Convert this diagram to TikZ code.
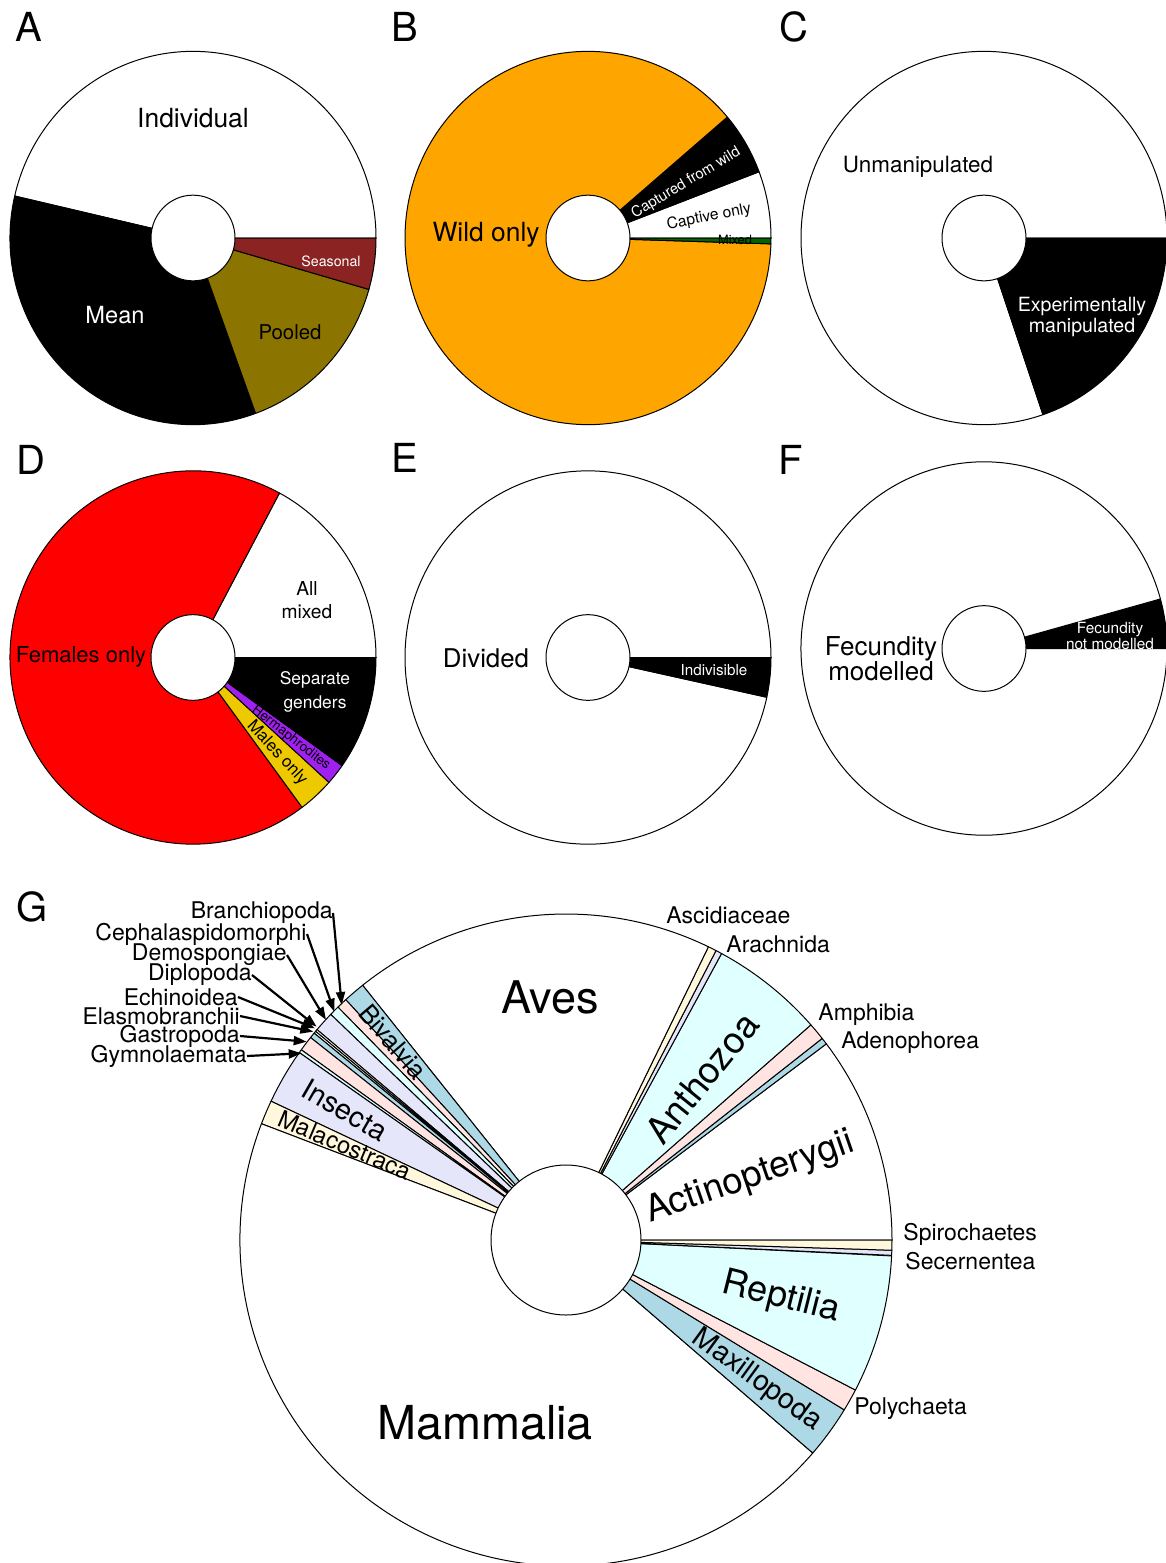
\documentclass[tikz,border=0pt]{standalone}
\usepackage{fontspec}
\setmainfont{TeX Gyre Heros}
\usetikzlibrary{arrows.meta}
\definecolor{seasred}{RGB}{139,35,35}
\definecolor{pooledol}{RGB}{139,117,0}
\definecolor{wildorange}{RGB}{255,165,0}
\definecolor{mixgreen}{RGB}{0,100,0}
\definecolor{malegold}{RGB}{238,201,0}
\definecolor{hermpurple}{RGB}{160,32,240}
\definecolor{pieblue}{HTML}{ADD8E6}
\definecolor{pierose}{HTML}{FFE4E1}
\definecolor{piecyan}{HTML}{E0FFFF}
\definecolor{pielav}{HTML}{E6E6FA}
\definecolor{piesilk}{HTML}{FFF8DC}
\begin{document}
\begin{tikzpicture}[x=0.5pt, y=0.5pt,
    every node/.style={align=center, inner sep=0pt},
    lbl/.style={font=\fontsize{#1}{#1}\selectfont},
    lbltwo/.style 2 args={font=\fontsize{#1}{#2}\selectfont},
    panel/.style={font=\fontsize{20}{20}\selectfont},
    slice/.style={draw=black, line width=0.5pt, line join=round},
    hole/.style={draw=black, fill=white, line width=0.5pt},
    pointer/.style={-{Triangle[length=6.5pt, width=4.5pt]}, line width=1.1pt}]
    \useasboundingbox (0,0) rectangle (1166,-1563);

    % panel letters
    \node[panel] (labA) at (29,-27) {A};
    \node[panel] (labB) at (405,-27) {B};
    \node[panel] (labC) at (794,-27) {C};
    \node[panel] (labD) at (31,-460) {D};
    \node[panel] (labE) at (405,-458) {E};
    \node[panel] (labF) at (791,-460) {F};
    \node[panel] (labG) at (32,-907) {G};

    % A
    \begin{scope}[shift={(193,-238)}, yscale=1.02]
        \foreach \sa/\ea/\col in {0/167/white, 167/290/black, 290/344/pooledol, 344/360/seasred}
            \filldraw[slice, fill=\col] (0,0) -- (\sa:183) arc[start angle=\sa, end angle=\ea, radius=183] -- cycle;
        \filldraw[hole] (0,0) circle[radius=42];
    \end{scope}
    \node[lbl=13.2] (indiv) at (193,-118) {Individual};
    \node[lbl=11.8, text=white] (mean) at (115,-315) {Mean};
    \node[lbl=10.2] (pooled) at (290,-332) {Pooled};
    \node[lbl=7.1, text=white] (seasonal) at (331,-261) {Seasonal};

    % B
    \begin{scope}[shift={(588,-238)}, yscale=1.02]
        \foreach \sa/\ea/\col in {0/20.8/white, 20.8/40.4/black, 40.4/358.2/wildorange, 358.2/360/mixgreen}
            \filldraw[slice, fill=\col] (0,0) -- (\sa:183) arc[start angle=\sa, end angle=\ea, radius=183] -- cycle;
        \filldraw[hole] (0,0) circle[radius=42];
    \end{scope}
    \node[lbl=13.2] (wild) at (486,-235) {Wild only};
    \node[lbl=7.4, text=white, rotate=31] (captured) at (686,-183) {Captured from wild};
    \node[lbl=7.8, rotate=11] (captive) at (709,-217) {Captive only};
    \node[lbl=6.4] (mixed) at (735,-240) {Mixed};

    % C
    \begin{scope}[shift={(984,-238)}, yscale=1.02]
        \foreach \sa/\ea/\col in {0/288.8/white, 288.8/360/black}
            \filldraw[slice, fill=\col] (0,0) -- (\sa:183) arc[start angle=\sa, end angle=\ea, radius=183] -- cycle;
        \filldraw[hole] (0,0) circle[radius=42];
    \end{scope}
    \node[lbl=11.2] (unman) at (918,-167) {Unmanipulated};
    \node[lbltwo={9.8}{10.8}, text=white] (expman) at (1082,-317) {Experimentally\\manipulated};

    % D
    \begin{scope}[shift={(193,-657.5)}, yscale=1.02]
        \foreach \sa/\ea/\col in {0/61.8/white, 61.8/306.6/red, 306.6/318/malegold, 318/324.6/hermpurple, 324.6/360/black}
            \filldraw[slice, fill=\col] (0,0) -- (\sa:183) arc[start angle=\sa, end angle=\ea, radius=183] -- cycle;
        \filldraw[hole] (0,0) circle[radius=42];
    \end{scope}
    \node[lbl=11] (females) at (81,-657) {Females only};
    \node[lbltwo={9.6}{11.4}] (allmix) at (307,-600) {All\\mixed};
    \node[lbltwo={8.7}{11.7}, text=white] (sepgen) at (315,-692) {Separate\\genders};
    \node[lbl=6.7, rotate=-38] (herm) at (291,-738) {Hermaphrodites};
    \node[lbl=8.4, rotate=-47] (males) at (277,-753) {Males only};

    % E
    \begin{scope}[shift={(588,-657.5)}, yscale=1.02]
        \foreach \sa/\ea/\col in {0/347.7/white, 347.7/360/black}
            \filldraw[slice, fill=\col] (0,0) -- (\sa:183) arc[start angle=\sa, end angle=\ea, radius=183] -- cycle;
        \filldraw[hole] (0,0) circle[radius=42];
    \end{scope}
    \node[lbl=12.9] (divided) at (486,-658) {Divided};
    \node[lbl=7.6, text=white] (indivis) at (714,-670) {Indivisible};

    % F
    \begin{scope}[shift={(984,-648.5)}, yscale=1.02]
        \foreach \sa/\ea/\col in {0/15.4/black, 15.4/360/white}
            \filldraw[slice, fill=\col] (0,0) -- (\sa:183) arc[start angle=\sa, end angle=\ea, radius=183] -- cycle;
        \filldraw[hole] (0,0) circle[radius=42];
    \end{scope}
    \node[lbltwo={13}{12.5}] (fecmod) at (881,-659) {Fecundity\\modelled};
    \node[lbltwo={7.7}{6.2}, text=white] (fecnot) at (1110,-636) {Fecundity\\not modelled};

    % G
    \begin{scope}[shift={(566,-1240)}]
        \foreach \sa/\ea/\col in {0/37.0/white, 37.0/38.2/pieblue, 38.2/41.3/pierose, 41.3/61.5/piecyan,
                61.5/62.6/pielav, 62.6/64.1/piesilk, 64.1/128.6/white, 128.6/132.5/pieblue,
                132.5/134.4/pierose, 134.4/136.2/piecyan, 136.2/139.8/pielav, 139.8/140.2/piesilk,
                140.2/140.6/white, 140.6/141.6/pieblue, 141.6/144.3/pierose, 144.3/144.9/piecyan,
                144.9/154.8/pielav, 154.8/159.1/piesilk, 159.1/319.2/white, 319.2/328.6/pieblue,
                328.6/332.6/pierose, 332.6/357.2/piecyan, 357.3/358.2/pielav, 358.2/360/piesilk}
            \filldraw[slice, fill=\col] (0,0) -- (\sa:326) arc[start angle=\sa, end angle=\ea, radius=326] -- cycle;
        \filldraw[hole] (0,0) circle[radius=75];
        \node[lbl=22.5] (aves) at (-16,243) {Aves};
        \node[lbl=23.4] (mamm) at (-81,-183) {Mammalia};
        \node[lbl=18.4, rotate=51] (antho) at (136,162) {Anthozoa};
        \node[lbl=18.2, rotate=19] (actino) at (184,62) {Actinopterygii};
        \node[lbl=18, rotate=-14] (rept) at (215,-58) {Reptilia};
        \node[lbl=14.3, rotate=-36] (maxi) at (191,-140) {Maxillopoda};
        \node[lbl=14.4, rotate=-30] (insec) at (-221,130) {Insecta};
        \node[lbl=11.9, rotate=-23] (mala) at (-221,95) {Malacostraca};
        \node[lbl=12.9, rotate=-49.5] (biva) at (-173,198) {Bivalvia};
    \end{scope}

    % outer labels
    \node[lbl=11.5, anchor=west] (ascid) at (666,-915) {Ascidiaceae};
    \node[lbl=11.5, anchor=west] (arach) at (726,-944) {Arachnida};
    \node[lbl=11.5, anchor=west] (amph) at (818,-1015) {Amphibia};
    \node[lbl=11.5, anchor=west] (adeno) at (841,-1043) {Adenophorea};
    \node[lbl=11.5, anchor=west] (spiro) at (903,-1234) {Spirochaetes};
    \node[lbl=11.5, anchor=west] (secer) at (905,-1261) {Secernentea};
    \node[lbl=11.5, anchor=west] (poly) at (854,-1409) {Polychaeta};

    % labels with pointers
    \node[lbl=11.5, anchor=east] (branch) at (333,-913) {Branchiopoda};
    \node[lbl=11.5, anchor=east] (cepha) at (307,-934) {Cephalaspidomorphi};
    \node[lbl=11.5, anchor=east] (demo) at (287,-955) {Demospongiae};
    \node[lbl=11.5, anchor=east] (diplo) at (252,-975) {Diplopoda};
    \node[lbl=11.5, anchor=east] (echin) at (238,-997) {Echinoidea};
    \node[lbl=11.5, anchor=east] (elasmo) at (240,-1016) {Elasmobranchii};
    \node[lbl=11.5, anchor=east] (gastro) at (240,-1036) {Gastropoda};
    \node[lbl=11.5, anchor=east] (gymno) at (247,-1056) {Gymnolaemata};
    \coordinate (branchT) at (341.7,-1005);
    \coordinate (cephaT) at (334.3,-1011.7);
    \coordinate (demoT) at (326,-1020);
    \coordinate (diploT) at (316.7,-1026.7);
    \coordinate (echinT) at (315,-1028.3);
    \coordinate (elasmoT) at (313.3,-1031.7);
    \coordinate (gastroT) at (306.7,-1041.7);
    \coordinate (gymnoT) at (301.7,-1053.3);
    \foreach \lab in {branch, cepha, demo, diplo, echin, elasmo, gastro, gymno}
        \draw[pointer] (\lab.east) -- (\lab T);
\end{tikzpicture}
\end{document}
